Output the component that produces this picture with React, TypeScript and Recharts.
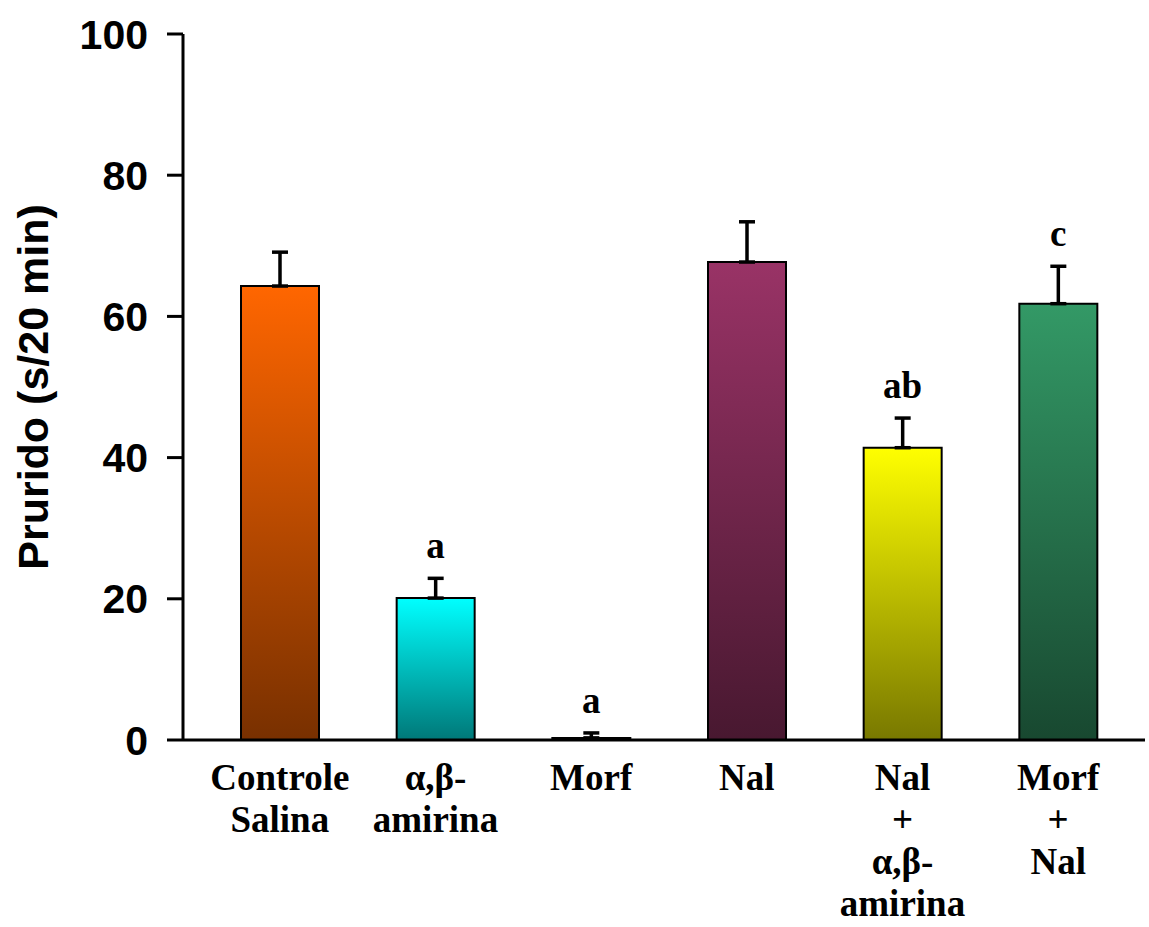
import { Bar, Cell, ComposedChart, ErrorBar, LabelList, Line, XAxis, YAxis } from 'recharts'

// groups (line breaks in the axis labels)
const groups = ['Controle\nSalina', 'α,β-\namirina', 'Morf', 'Nal', 'Nal\n+\nα,β-\namirina', 'Morf\n+\nNal']
// mean itching time (s/20 min) and SEM
const means = [64.3, 20.1, 0.3, 67.7, 41.4, 61.8]
const sems = [4.8, 2.8, 0.7, 5.7, 4.2, 5.3]
// significance letters
const marks = ['', 'a', 'a', '', 'ab', 'c']
const yTicks = [0, 20, 40, 60, 80, 100]

// top / bottom gradient colours for each bar
const topColors = ['#ff6600', '#00ffff', '#6666ff', '#993366', '#ffff00', '#339966']
const bottomColors = ['#783000', '#007878', '#303078', '#481830', '#787800', '#184830']

const rows = groups.map((g, i) => ({
  group: g,
  mean: means[i],
  err: [0, sems[i]],
  top: means[i] + sems[i],
  mark: marks[i],
}))

const serif = '"Liberation Serif", "Times New Roman", serif'
const sans = '"Liberation Sans", Arial, sans-serif'

function GroupTick({ x, y, payload }: any) {
  const lines = String(payload.value).split('\n')
  return (
    <text x={x} y={y} textAnchor="middle" fontFamily={serif} fontWeight="bold" fontSize={37} fill="#000">
      {lines.map((l, i) => (
        <tspan key={i} x={x} dy={i === 0 ? 48 : 42}>
          {l}
        </tspan>
      ))}
    </text>
  )
}

function YTitle({ viewBox }: any) {
  const cx = 33
  const cy = viewBox.y + viewBox.height / 2
  return (
    <text
      x={cx}
      y={cy}
      transform={`rotate(-90 ${cx} ${cy})`}
      textAnchor="middle"
      dominantBaseline="central"
      fontFamily={sans}
      fontWeight="bold"
      fontSize={43}
      fill="#000"
    >
      Prurido (s/20 min)
    </text>
  )
}

function Mark({ x, y, value }: any) {
  if (!value) return null
  return (
    <text x={x} y={y - 20} textAnchor="middle" fontFamily={serif} fontWeight="bold" fontSize={37} fill="#000">
      {value}
    </text>
  )
}

export default function App() {
  return (
    <div style={{ position: 'absolute', left: 0, top: 0, background: '#fff' }}>
      <ComposedChart width={1149} height={927} data={rows} margin={{ top: 34, right: 4, bottom: 0, left: 0 }}>
        <defs>
          {topColors.map((c, i) => (
            <linearGradient key={i} id={`grad${i}`} x1="0" y1="0" x2="0" y2="1">
              <stop offset="0%" stopColor={c} />
              <stop offset="100%" stopColor={bottomColors[i]} />
            </linearGradient>
          ))}
        </defs>
        <XAxis
          dataKey="group"
          height={187}
          padding={{ left: 19, right: 9 }}
          axisLine={{ stroke: '#000', strokeWidth: 3 }}
          tickLine={false}
          tickSize={0}
          tick={<GroupTick />}
          interval={0}
        />
        <YAxis
          width={183}
          domain={[0, 100]}
          ticks={yTicks}
          axisLine={{ stroke: '#000', strokeWidth: 3 }}
          tickLine={{ stroke: '#000', strokeWidth: 3 }}
          tickSize={16}
          tickMargin={19}
          tick={{ fill: '#000', fontFamily: sans, fontWeight: 'bold', fontSize: 41 }}
          label={<YTitle />}
        />
        <Bar dataKey="mean" barSize={78} stroke="#000" strokeWidth={2} isAnimationActive={false}>
          {rows.map((_, i) => (
            <Cell key={i} fill={`url(#grad${i})`} />
          ))}
          <ErrorBar dataKey="err" width={8} stroke="#000" strokeWidth={3.5} direction="y" />
        </Bar>
        <Line dataKey="top" stroke="none" dot={false} activeDot={false} isAnimationActive={false}>
          <LabelList dataKey="mark" content={<Mark />} />
        </Line>
      </ComposedChart>
    </div>
  )
}
